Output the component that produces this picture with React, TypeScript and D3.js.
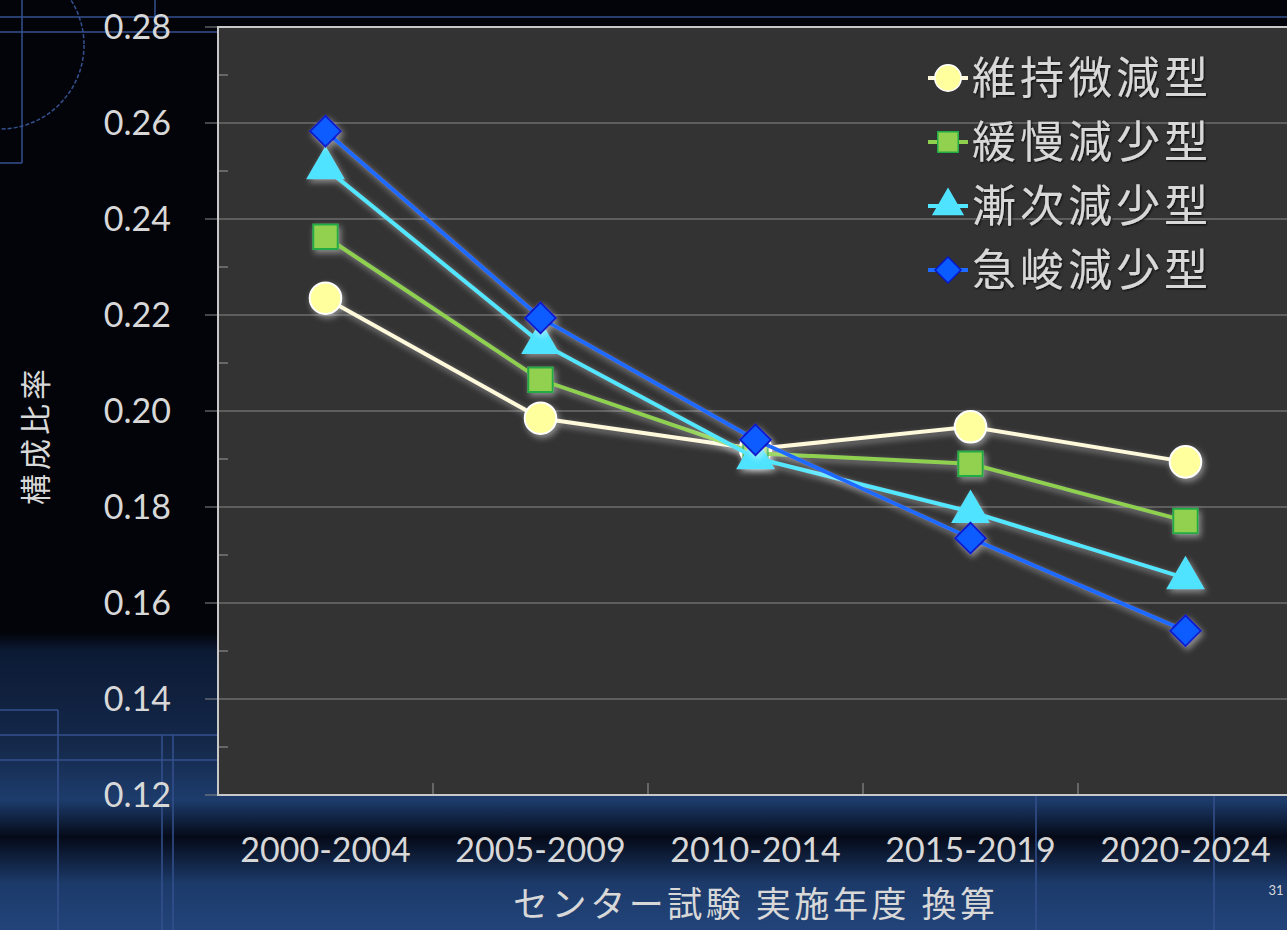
import React from "react";
import * as d3 from "d3";

const categories = ["2000-2004", "2005-2009", "2010-2014", "2015-2019", "2020-2024"];
const seriesNames = ["維持微減型", "緩慢減少型", "漸次減少型", "急峻減少型"];
const iji = [0.2235, 0.1985, 0.1921, 0.1967, 0.1894];
const kanman = [0.2363, 0.2065, 0.1912, 0.189, 0.1771];
const zenji = [0.2506, 0.2142, 0.1902, 0.179, 0.1652];
const kyushun = [0.2583, 0.2194, 0.194, 0.1735, 0.1542];
const yTicks = [0.12, 0.14, 0.16, 0.18, 0.2, 0.22, 0.24, 0.26, 0.28];
const yMinorTicks = [0.13, 0.15, 0.17, 0.19, 0.21, 0.23, 0.25, 0.27];

const W = 1287, H = 930;
const L = 218, R = 1293, T = 27, B = 795;

const styles = [
  { line: "#fff9dc", fill: "#ffff9e", stroke: "#ffffff", sym: "circle" },
  { line: "#8fd14f", fill: "#92d050", stroke: "#22aa44", sym: "square" },
  { line: "#52e6ff", fill: "#4fe3ff", stroke: "#4fe3ff", sym: "triangle" },
  { line: "#1e6bff", fill: "#0a5cff", stroke: "#0818c8", sym: "diamond" },
];

function markerPath(sym: string, big: boolean) {
  const s = big ? 1 : 0.7;
  if (sym === "circle") return d3.symbol(d3.symbolCircle, 780 * s)()!;
  if (sym === "square") return d3.symbol(d3.symbolSquare, 600 * s)()!;
  if (sym === "triangle") return d3.symbol(d3.symbolTriangle, 540 * s)()!;
  return d3.symbol(d3.symbolSquare, 480 * s)()!;
}

export default function App() {
  const x = d3.scaleBand<string>().domain(categories).range([L, R]).padding(0);
  const y = d3.scaleLinear().domain([0.12, 0.28]).range([B, T]);
  const all = [iji, kanman, zenji, kyushun];
  const line = d3
    .line<number>()
    .x((_, i) => x(categories[i])! + x.bandwidth() / 2)
    .y((d) => y(d));
  const latin = "Lato, 'Open Sans', sans-serif";
  const cjk = "'Noto Sans CJK JP', sans-serif";
  const txt = "#d8d8d8";

  return (
    <svg width={W} height={H} style={{ position: "absolute", left: 0, top: 0, display: "block" }}>
      <defs>
        <linearGradient id="bg" x1="0" y1="0" x2="0" y2="1">
          <stop offset="0" stopColor="#02040a" />
          <stop offset="0.68" stopColor="#02040a" />
          <stop offset="0.7" stopColor="#0c1a34" />
          <stop offset="0.8" stopColor="#14284a" />
          <stop offset="0.86" stopColor="#1d3c6c" />
          <stop offset="0.9" stopColor="#050a18" />
          <stop offset="0.95" stopColor="#1c3a6a" />
          <stop offset="1" stopColor="#22447a" />
        </linearGradient>
        <filter id="glow" x="-20%" y="-20%" width="140%" height="140%">
          <feDropShadow dx="2" dy="3" stdDeviation="3" floodColor="#ffffff" floodOpacity="0.45" />
        </filter>
        <filter id="tshadow">
          <feDropShadow dx="1" dy="1" stdDeviation="1" floodColor="#000" floodOpacity="0.8" />
        </filter>
      </defs>
      <rect x={0} y={0} width={W} height={H} fill="url(#bg)" />
      {/* decorative lines */}
      <g stroke="#35518f" strokeWidth={1.5} fill="none">
        <line x1={0} y1={17} x2={W} y2={17} />
        <line x1={0} y1={32} x2={L} y2={32} />
        <line x1={22} y1={0} x2={22} y2={163} />
        <line x1={0} y1={163} x2={22} y2={163} />
        <line x1={155} y1={0} x2={155} y2={32} />
        <circle cx={0} cy={45} r={84} strokeDasharray="4 2" />
        <line x1={0} y1={710} x2={58} y2={710} />
        <line x1={58} y1={710} x2={58} y2={H} />
        <line x1={0} y1={735} x2={L} y2={735} />
        <line x1={0} y1={760} x2={L} y2={760} />
        <line x1={162} y1={735} x2={162} y2={H} />
        <line x1={173} y1={735} x2={173} y2={H} />
        <line x1={1036} y1={B} x2={1036} y2={H} />
        <line x1={1214} y1={B} x2={1214} y2={H} />
      </g>
      {/* plot area */}
      <rect x={L} y={T} width={R - L} height={B - T} fill="#333333" />
      {yTicks.map((t) => (
        <line key={"g" + t} x1={L - 13} x2={R} y1={y(t)} y2={y(t)} stroke="#8a8a8a" strokeWidth={1.2} />
      ))}
      {yMinorTicks.map((t) => (
        <line key={"m" + t} x1={L} x2={L + 10} y1={y(t)} y2={y(t)} stroke="#8a8a8a" strokeWidth={1.2} />
      ))}
      {categories.slice(1).map((c) => (
        <line key={"xt" + c} x1={x(c)!} x2={x(c)!} y1={B} y2={B - 12} stroke="#8a8a8a" strokeWidth={1.2} />
      ))}
      <rect x={L} y={T} width={R - L} height={B - T} fill="none" stroke="#c8c8c8" strokeWidth={2} />
      {/* y labels */}
      {yTicks.map((t) => (
        <text key={"yl" + t} x={171} y={y(t)} dy="0.35em" textAnchor="end" fontFamily={latin} fontSize={34} fill={txt}>
          {t.toFixed(2)}
        </text>
      ))}
      {/* x labels */}
      {categories.map((c) => (
        <text key={"xl" + c} x={x(c)! + x.bandwidth() / 2} y={850} dy="0.35em" textAnchor="middle" fontFamily={latin} fontSize={34} fill={txt}>
          {c}
        </text>
      ))}
      <text x={754} y={905} dy="0.35em" textAnchor="middle" fontFamily={cjk} fontSize={35} fill={txt} textLength={482} lengthAdjust="spacing">
        センター試験 実施年度 換算
      </text>
      <text transform="translate(36,435) rotate(-90)" textAnchor="middle" dy="0.35em" fontFamily={cjk} fontSize={31} letterSpacing={4} fill={txt}>
        構成比率
      </text>
      <text x={1276} y={890} textAnchor="middle" dy="0.35em" fontFamily={latin} fontSize={13} fill={txt}>
        31
      </text>
      {/* series */}
      {all.map((vals, si) => {
        const st = styles[si];
        return (
          <g key={"s" + si} filter="url(#glow)">
            <path d={line(vals)!} fill="none" stroke={st.line} strokeWidth={4} />
            {vals.map((v, i) => {
              const cx = x(categories[i])! + x.bandwidth() / 2;
              const cy = y(v);
              const rot = st.sym === "diamond" ? 45 : 0;
              return (
                <path
                  key={i}
                  d={markerPath(st.sym, true)}
                  transform={`translate(${cx},${cy}) rotate(${rot})`}
                  fill={st.fill}
                  stroke={st.stroke}
                  strokeWidth={2}
                />
              );
            })}
          </g>
        );
      })}
      {/* legend */}
      {seriesNames.map((n, i) => {
        const st = styles[i];
        const ly = 78 + i * 64;
        const rot = st.sym === "diamond" ? 45 : 0;
        return (
          <g key={"lg" + i}>
            <line x1={928} x2={968} y1={ly} y2={ly} stroke={st.line} strokeWidth={4} />
            <path d={markerPath(st.sym, false)} transform={`translate(948,${ly}) rotate(${rot})`} fill={st.fill} stroke={st.stroke} strokeWidth={1.5} />
            <text x={972} y={ly} dy="0.36em" fontFamily={cjk} fontSize={44} letterSpacing={4} fill={txt} filter="url(#tshadow)">
              {n}
            </text>
          </g>
        );
      })}
    </svg>
  );
}
